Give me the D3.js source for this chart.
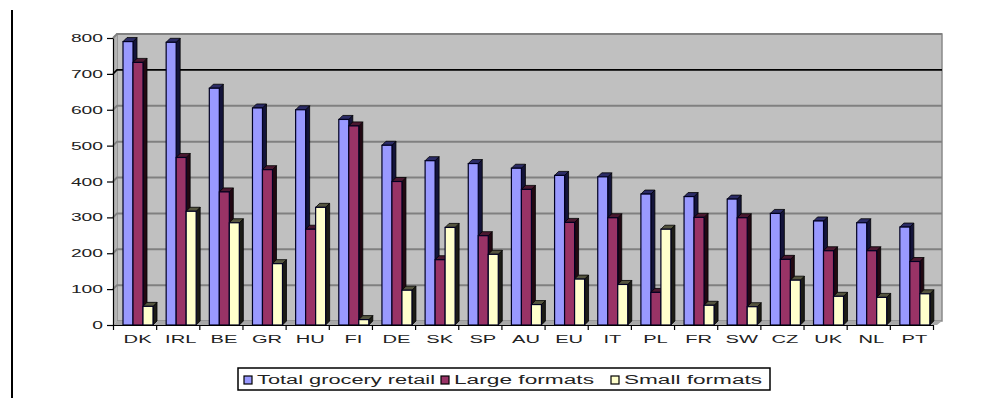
<!DOCTYPE html>
<html>
<head>
<meta charset="utf-8">
<script src="https://cdn.jsdelivr.net/npm/d3@7"></script>
<style>
  body { margin: 0; background: #fff; }
  svg { display: block; font-family: "Liberation Sans", Arial, sans-serif; }
</style>
</head>
<body>
<div id="chart"></div>
<script>
const categories = ["DK", "IRL", "BE", "GR", "HU", "FI", "DE", "SK", "SP", "AU", "EU", "IT", "PL", "FR", "SW", "CZ", "UK", "NL", "PT"];
const totalRetail = [790, 788, 660, 605, 600, 573, 501, 458, 450, 437, 417, 413, 365, 358, 351, 311, 290, 285, 273];
const largeFormats = [732, 467, 371, 433, 267, 555, 400, 182, 249, 378, 286, 299, 91, 300, 299, 183, 207, 207, 177];
const smallFormats = [52, 317, 285, 171, 328, 15, 97, 272, 197, 57, 128, 113, 267, 55, 51, 125, 80, 77, 87];
const seriesNames = ["Total grocery retail", "Large formats", "Small formats"];
const yTicks = [0, 100, 200, 300, 400, 500, 600, 700, 800];

const colors = {
    "Total grocery retail": {front: "#9999FF", side: "#14143a", top: "#2b2b66"},
    "Large formats": {front: "#993366", side: "#220812", top: "#4a1830"},
    "Small formats": {front: "#FFFFCC", side: "#1c1c16", top: "#55553f"}
};

const width = 983;
const height = 398;
const x0 = 113, x1 = 933, yTop = 38, yBot = 325;
const depthX = 4, depthY = 4;
const textStretch = 1.75;

const svg = d3.select("#chart")
    .append("svg")
    .attr("width", width)
    .attr("height", height);

// page border line on the left
svg.append("line")
    .attr("x1", 12).attr("x2", 12)
    .attr("y1", 10).attr("y2", height)
    .attr("stroke", "#000").attr("stroke-width", 2);

const xScale = d3.scaleBand()
    .domain(categories)
    .range([x0, x1]);

const seriesScale = d3.scaleBand()
    .domain(seriesNames)
    .range([10, 40]);

const yScale = d3.scaleLinear()
    .domain([0, 800])
    .range([yBot, yTop]);

// walls
svg.append("rect")
    .attr("x", x0 + depthX).attr("y", yTop - depthY)
    .attr("width", 942 - x0 - depthX).attr("height", yBot - yTop)
    .attr("fill", "#C0C0C0")
    .attr("stroke", "#8a8a8a").attr("stroke-width", 1.5);
svg.append("polygon")
    .attr("points", `${x0},${yTop} ${x0 + depthX},${yTop - depthY} ${x0 + depthX},${yBot - depthY} ${x0},${yBot}`)
    .attr("fill", "#b4b4b4");
svg.append("polygon")
    .attr("points", `${x0},${yBot} ${x0 + depthX},${yBot - depthY} 942,${yBot - depthY} ${x1 + 4},${yBot}`)
    .attr("fill", "#a8a8a8");

// gridlines on the back wall
svg.append("g")
    .selectAll("path")
    .data(yTicks.filter(d => d > 0))
    .join("path")
    .attr("d", d => `M${x0},${yScale(d)} L${x0 + depthX},${yScale(d) - depthY} L942,${yScale(d) - depthY}`)
    .attr("fill", "none")
    .attr("stroke", d => d === 700 ? "#000" : "#808080")
    .attr("stroke-width", d => d === 700 ? 1.6 : 2);

// bars
const barW = seriesScale.bandwidth();
seriesNames.forEach((name, si) => {
    const values = [totalRetail, largeFormats, smallFormats][si];
    const g = svg.append("g");
    const c = colors[name];
    categories.forEach((cat, i) => {
        const bx = xScale(cat) + seriesScale(name);
        const by = yScale(values[i]);
        g.append("polygon")
            .attr("points", `${bx + barW},${by} ${bx + barW + depthX},${by - depthY} ${bx + barW + depthX},${yBot - depthY} ${bx + barW},${yBot}`)
            .attr("fill", c.side)
            .attr("stroke", "#000").attr("stroke-width", 0.8);
        g.append("polygon")
            .attr("points", `${bx},${by} ${bx + depthX},${by - depthY} ${bx + barW + depthX},${by - depthY} ${bx + barW},${by}`)
            .attr("fill", c.top)
            .attr("stroke", "#000").attr("stroke-width", 0.8);
        g.append("rect")
            .attr("x", bx).attr("y", by)
            .attr("width", barW).attr("height", yBot - by)
            .attr("fill", c.front)
            .attr("stroke", "#000022").attr("stroke-width", 1.2);
    });
});

// y axis
const yAxis = svg.append("g")
    .attr("transform", `translate(${x0},0)`)
    .call(d3.axisLeft(yScale).tickValues(yTicks).tickSize(6).tickSizeOuter(0));
yAxis.select(".domain").attr("stroke", "#000").attr("stroke-width", 1.2);
yAxis.selectAll(".tick line").attr("stroke", "#000").attr("stroke-width", 1.2);
yAxis.selectAll(".tick text")
    .attr("x", -10 / textStretch)
    .attr("transform", `scale(${textStretch},1)`)
    .attr("font-size", 11)
    .attr("fill", "#222");

// x axis: boundary ticks and centered labels
const boundary = d3.scaleLinear().domain([0, categories.length]).range([x0, x1]);
const xTicks = svg.append("g")
    .attr("transform", `translate(0,${yBot})`)
    .call(d3.axisBottom(boundary).tickValues(d3.range(categories.length + 1)).tickSize(5).tickSizeOuter(0).tickFormat(""));
xTicks.select(".domain").attr("stroke", "#000").attr("stroke-width", 1.2);
xTicks.selectAll(".tick line").attr("stroke", "#000").attr("stroke-width", 1.2);

const xLabels = svg.append("g")
    .attr("transform", `translate(${3},${yBot})`)
    .call(d3.axisBottom(xScale).tickSize(0).tickPadding(10));
xLabels.select(".domain").remove();
xLabels.selectAll(".tick text")
    .attr("transform", `scale(${textStretch},1)`)
    .attr("x", 0)
    .attr("font-size", 11.5)
    .attr("fill", "#222");

// legend
const legend = svg.append("g").attr("transform", "translate(238,368)");
legend.append("rect")
    .attr("width", 532).attr("height", 22)
    .attr("fill", "#fff").attr("stroke", "#000").attr("stroke-width", 1.5);
const legendX = [6, 203, 373];
const legendW = [178, 140, 138];
seriesNames.forEach((name, i) => {
    const item = legend.append("g").attr("transform", `translate(${legendX[i]},0)`);
    item.append("rect")
        .attr("x", 0).attr("y", 8)
        .attr("width", 8).attr("height", 8)
        .attr("fill", colors[name].front)
        .attr("stroke", "#000").attr("stroke-width", 1.2);
    item.append("text")
        .attr("x", 13).attr("y", 16)
        .attr("font-size", 12.5)
        .attr("fill", "#222")
        .attr("textLength", legendW[i])
        .attr("lengthAdjust", "spacingAndGlyphs")
        .text(name);
});
</script>
</body>
</html>
